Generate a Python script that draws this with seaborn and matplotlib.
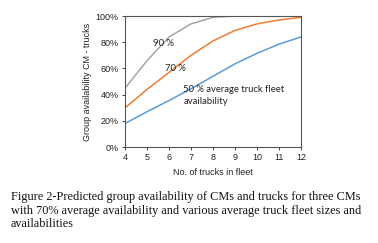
import matplotlib
matplotlib.use("Agg")
import matplotlib.pyplot as plt
import matplotlib.ticker as mticker
import pandas as pd
import seaborn as sns

# fleet size and predicted group availability (%) per truck availability
trucks = [4, 5, 6, 7, 8, 9, 10, 11, 12]
avail_50 = [18, 27, 35.5, 44.5, 54, 63.5, 71.5, 78.5, 84]
avail_70 = [30, 44, 57, 70, 81, 89, 94, 97, 99]
avail_90 = [45, 66, 84, 94, 99, 100, 100, 100, 100]
series_names = ['50 %', '70 %', '90 %']
colors = ['#5B9BD5', '#ED7D31', '#A5A5A5']

df = pd.DataFrame({'trucks': trucks * 3,
                   'avail': avail_50 + avail_70 + avail_90,
                   'series': sum([[s] * len(trucks) for s in series_names], [])})

sns.set_style('white')
plt.rcParams['font.family'] = ['Liberation Sans', 'DejaVu Sans']

fig = plt.figure(figsize=(3.78, 2.43), dpi=100)
ax = fig.add_axes([0.331, 0.395, 0.465, 0.539])

sns.lineplot(data=df, x='trucks', y='avail', hue='series',
             palette=dict(zip(series_names, colors)), linewidth=1.1,
             legend=False, ax=ax)

ax.set_xlim(4, 12)
ax.set_ylim(0, 100)
ax.set_xticks(range(4, 13))
ax.set_yticks(range(0, 101, 20))
ax.yaxis.set_major_formatter(mticker.FuncFormatter(lambda v, p: f'{int(v)}%'))
ax.tick_params(labelsize=6.5, length=2.5, width=0.7, direction='out',
               colors='#404040', labelcolor='#222222', pad=2,
               bottom=True, left=True)
for s in ax.spines.values():
    s.set_color('#555555')
    s.set_linewidth(0.8)

ax.set_xlabel('No. of trucks in fleet', fontsize=6.5, color='#222222', labelpad=4)
ax.set_ylabel('Group availability CM - trucks', fontsize=6.5, color='#222222', labelpad=3)

lab_font = ['Lato', 'DejaVu Sans']
ax.text(5.27, 79, '90 %', fontsize=6.8, family=lab_font, color='#222222', va='center')
ax.text(5.8, 60, '70 %', fontsize=6.8, family=lab_font, color='#222222', va='center')
ax.text(6.65, 47, '50 % average truck fleet\navailability', fontsize=6.8,
        family=lab_font, color='#222222', va='top', linespacing=1.3)

fig.text(0.029, 0.212, 'Figure 2-Predicted group availability of CMs and trucks for three CMs\n'
         'with 70% average availability and various average truck fleet sizes and\n'
         'availabilities', fontsize=8.8, family=['Liberation Serif', 'DejaVu Serif'],
         color='#111111', va='top', linespacing=1.12)

fig.savefig('out.png', dpi=100)
